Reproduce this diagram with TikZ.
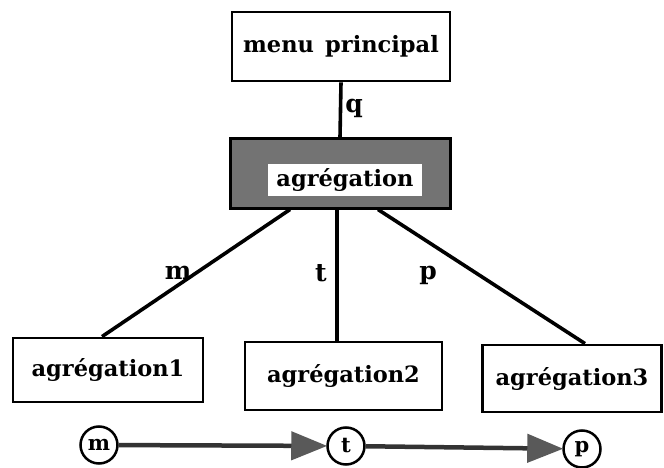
\documentclass[tikz,border=0pt]{standalone}
\usepackage{fontspec}
\setmainfont{DejaVu Serif}
\usetikzlibrary{arrows.meta}
\begin{document}
\begin{tikzpicture}[x=1pt,y=-1pt,
  box/.style={draw=black, line width=2.8pt, fill=white, inner sep=0pt, font=\bfseries\fontsize{22.5}{26}\selectfont},
  lbl/.style={font=\bfseries\fontsize{25}{28}\selectfont, inner sep=0pt},
  circ/.style={circle, draw=black, line width=2.5pt, minimum size=37pt, inner sep=0pt, font=\bfseries\fontsize{21}{22}\selectfont},
  conn/.style={line width=3.6pt},
  flow/.style={line width=4.5pt, draw=black!80, shorten >=-1pt, -{Triangle[length=36pt,width=28pt,color=black!65,fill=black!65]}}]
\useasboundingbox (0,0) rectangle (664,468);
% boxes
\node[box, minimum width=218pt, minimum height=69pt] (menu) at (341,46.5) {menu\enspace principal};
\node[draw=black, line width=3pt, fill=black!55, minimum width=220pt, minimum height=69pt, inner sep=0pt] (agreg) at (340,173.5) {};
\node[fill=white, minimum width=154pt, minimum height=31pt, inner sep=0pt, font=\bfseries\fontsize{22.5}{26}\selectfont] (agregt) at (345,180) {agrégation};
\node[box, minimum width=190pt, minimum height=64pt] (a1) at (108,370) {agrégation1};
\node[box, minimum width=197pt, minimum height=68pt] (a2) at (343.5,376) {agrégation2};
\node[box, minimum width=179pt, minimum height=67pt] (a3) at (572,378.5) {agrégation3};
% connectors
\draw[conn] (menu.south) -- (agreg.north);
\draw[conn] ([xshift=-50pt]agreg.south) -- ([xshift=-6pt]a1.north);
\draw[conn] ([xshift=-3pt]agreg.south) -- ([xshift=-6.5pt]a2.north);
\draw[conn] ([xshift=38pt]agreg.south) -- ([xshift=13pt]a3.north);
% labels
\node[lbl] (lq) at (354,108) {q};
\node[lbl] (lm) at (178,273) {m};
\node[lbl] (lt) at (321,273) {t};
\node[lbl] (lp) at (428,275) {p};
% circles and flow
\node[circ] (cm) at (99,445) {m};
\node[circ] (ct) at (346,446) {t};
\node[circ] (cp) at (582,449) {p};
\draw[flow] (cm) -- (ct);
\draw[flow] (ct) -- (cp);
\end{tikzpicture}
\end{document}
